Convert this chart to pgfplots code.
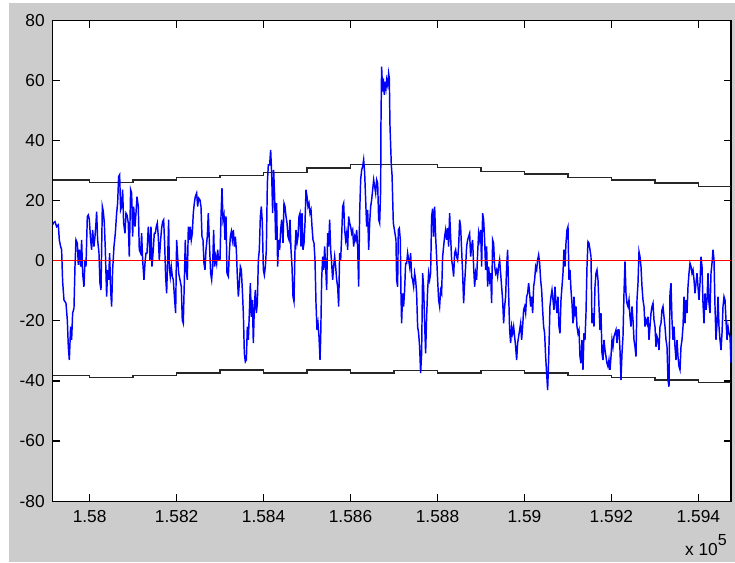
\documentclass[border=0pt]{standalone}
\usepackage{pgfplots}
\pgfplotsset{compat=1.18}
\usepackage{fontspec}
\setmainfont{Liberation Sans}
\definecolor{figgray}{RGB}{204,204,204}
\definecolor{mblue}{RGB}{0,0,255}
\definecolor{mred}{RGB}{255,0,0}
\begin{document}
\fontsize{13pt}{15pt}\selectfont
\begin{tikzpicture}
\useasboundingbox[fill=white] (-39.5pt,-45.75pt) rectangle (511.7pt,375.75pt);
\fill[figgray] (-32.8pt,-45.75pt) rectangle (511.7pt,373.5pt);
\begin{axis}[
  at={(0pt,0pt)}, anchor=south west,
  scale only axis, width=508.7pt, height=360.2pt,
  xmin=157915, xmax=159475, ymin=-80, ymax=80,
  axis background/.style={fill=white},
  axis line style={black, line width=0.8pt},
  tick align=inside, tick pos=both,
  major tick length=5.25pt,
  tick style={black, line width=0.8pt},
  xtick={158000,158200,158400,158600,158800,159000,159200,159400},
  xticklabels={1.58,1.582,1.584,1.586,1.588,1.59,1.592,1.594},
  ytick={-80,-60,-40,-20,0,20,40,60,80},
  yticklabels={-80,-60,-40,-20,0,20,40,60,80},
  xticklabel style={font=\fontsize{13pt}{15pt}\selectfont, inner sep=0pt, yshift=-6.75pt},
  yticklabel style={font=\fontsize{13pt}{15pt}\selectfont, inner sep=0pt, xshift=-5.8pt},
  scaled x ticks=false,
  clip=true,
]
% lower bound
\addplot[const plot, black!85, line width=1.0pt] coordinates {
(157915,-38.2) (158000,-38.9) (158100,-38.2) (158200,-37.3) (158300,-36.4)
(158400,-37.3) (158500,-36.4) (158600,-37.3) (158700,-36.5) (158800,-37.3)
(158900,-36.5) (159000,-37.3) (159100,-38.1) (159200,-38.9) (159300,-39.7)
(159400,-40.6) (159475,-40.6)};
% upper bound
\addplot[const plot, black!85, line width=1.0pt] coordinates {
(157915,26.9) (158000,26.2) (158100,26.9) (158200,27.8) (158300,28.4)
(158400,29.5) (158500,30.9) (158600,32.0) (158700,32.2) (158800,31.2)
(158900,29.7) (159000,28.9) (159100,27.8) (159200,26.9) (159300,26.0)
(159400,24.7) (159475,24.7)};
% blue signal
\addplot[mblue, line width=1.1pt, line join=miter] coordinates {
(157915,12.0) (157916.5,12.6) (157920.3,13.1) (157924.1,11.4) (157928.0,12.0) (157930.3,7.0)
(157933.3,4.8) (157935.6,3.7) (157937.9,-6.9) (157941.0,-13.0) (157945.6,-14.1) (157948.7,-19.7)
(157951.0,-28.6) (157953.3,-33.0) (157956.3,-21.9) (157958.6,-26.3) (157960.9,-17.4) (157964.0,-15.8)
(157966.3,-1.9) (157968.6,7.0) (157971.7,5.9) (157974.0,-1.3) (157976.3,3.7) (157979.3,-1.9)
(157981.6,7.0) (157983.9,-4.1) (157987.0,-8.6) (157989.3,0.3) (157991.6,-1.9) (157994.7,14.8)
(157997.0,15.3) (157999.3,13.7) (158002.3,7.0) (158004.6,3.7) (158006.9,10.3) (158010.0,4.8)
(158012.3,8.1) (158014.6,12.6) (158016.1,16.4) (158018.4,7.0) (158021.5,2.6) (158023.8,-7.4)
(158026.1,-9.7) (158029.2,18.1) (158031.5,16.4) (158033.8,12.6) (158036.1,3.7) (158039.1,-11.9)
(158041.4,-3.0) (158043.7,-6.3) (158046.0,2.6) (158048.3,-9.7) (158050.6,-15.2) (158052.9,-3.0)
(158056.0,4.8) (158059.1,9.2) (158062.1,15.9) (158064.4,19.2) (158066.7,28.1) (158069.0,28.7)
(158071.3,17.0) (158073.6,18.1) (158075.9,23.7) (158078.2,12.6) (158081.3,9.2) (158083.6,15.9)
(158085.9,15.3) (158088.9,12.6) (158091.2,1.4) (158094.3,23.7) (158096.6,22.6) (158098.9,8.1)
(158101.2,18.1) (158104.3,11.4) (158106.6,15.9) (158108.9,21.4) (158111.9,18.1) (158114.2,3.7)
(158117.3,2.6) (158119.6,9.2) (158121.9,0.3) (158125.0,-6.3) (158127.3,-0.8) (158129.6,2.6)
(158131.9,2.6) (158134.9,11.4) (158137.2,7.0) (158138.8,0.3) (158141.1,11.4) (158143.4,-1.9)
(158146.4,3.7) (158148.7,9.2) (158151.0,9.2) (158153.3,11.4) (158155.6,12.6) (158157.9,8.1)
(158160.2,0.3) (158163.3,7.0) (158165.6,10.9) (158167.9,13.1) (158170.2,13.7) (158172.5,5.9)
(158174.8,-5.2) (158177.1,-10.8) (158179.4,0.3) (158181.7,13.7) (158183.2,-1.9) (158185.5,-5.2)
(158187.8,-1.9) (158190.1,-5.2) (158192.4,-6.3) (158195.5,-13.0) (158197.8,-17.4) (158200.1,7.0)
(158202.4,1.4) (158204.7,-4.1) (158207.8,-6.3) (158210.8,-8.6) (158213.1,-19.7) (158215.4,-20.8)
(158217.7,-7.4) (158220.0,7.0) (158222.3,-3.0) (158224.6,-6.3) (158227.0,11.4) (158229.2,7.0)
(158231.5,11.4) (158233.8,7.0) (158236.1,9.2) (158238.4,15.9) (158240.7,19.2) (158243.0,21.4)
(158246.1,22.6) (158248.4,18.1) (158250.7,20.9) (158253.8,20.3) (158256.1,18.1) (158258.4,8.1)
(158260.7,7.0) (158263.0,-0.8) (158265.3,-3.0) (158267.6,3.7) (158270.6,8.1) (158272.9,15.9)
(158275.2,7.0) (158278.3,-4.1) (158280.6,-6.3) (158282.9,-1.9) (158285.2,10.3) (158287.5,-1.9)
(158289.8,1.4) (158292.1,-0.8) (158294.4,3.7) (158296.7,0.3) (158299.8,0.3)
(158302.1,14.8) (158304.4,24.2) (158306.7,13.7) (158309.0,15.3) (158311.3,7.0) (158313.6,14.8)
(158315.9,-4.1) (158319.0,-5.2) (158321.3,2.6) (158323.6,8.1) (158325.9,9.8) (158328.2,7.0)
(158330.5,10.3) (158332.8,4.8) (158335.1,8.1) (158337.4,3.7) (158339.7,-5.2) (158342.0,-11.9)
(158344.3,-7.4) (158346.6,-1.9) (158348.9,-3.0) (158351.2,-9.7) (158353.5,-17.4) (158355.8,-30.8)
(158358.1,-33.6) (158360.4,-33.0) (158362.7,-21.9) (158365.0,-26.3) (158367.3,-17.4) (158369.6,-7.4)
(158371.9,-18.6) (158374.2,-13.0) (158376.5,-27.4) (158378.8,-15.2) (158381.1,-9.7) (158383.4,-17.4)
(158385.7,-14.1) (158388.0,0.3) (158390.3,3.7) (158392.6,14.8) (158394.9,18.1) (158397.2,12.6)
(158399.5,-3.0) (158401.8,-4.7) (158404.1,-1.9) (158406.4,3.7) (158408.7,25.9) (158411.0,32.0)
(158414.0,32.0) (158416.3,37.0) (158418.6,29.2) (158420.9,15.9) (158423.2,30.3) (158425.5,21.4)
(158427.8,7.0) (158430.1,19.2) (158432.4,-1.9) (158434.7,7.0) (158437.0,3.7) (158439.3,10.3)
(158441.6,13.7) (158444.7,5.9) (158447.0,19.2) (158449.3,18.1) (158451.6,14.8) (158453.9,12.6)
(158456.2,8.1) (158458.5,7.0) (158460.8,13.7) (158463.1,3.7) (158465.4,-1.9) (158467.7,-11.9)
(158470.0,-13.6) (158472.3,3.7) (158474.6,10.3) (158476.9,5.9) (158479.2,8.1) (158481.5,14.8)
(158483.8,15.9) (158486.1,4.8) (158488.4,15.9) (158490.7,3.7) (158493.0,5.9) (158495.3,12.6)
(158497.6,23.7) (158499.9,21.4) (158502.2,18.1) (158504.5,19.2) (158506.8,15.9) (158509.1,17.0)
(158511.4,11.4) (158513.7,7.0) (158516.0,5.9) (158518.3,0.3) (158520.6,-14.1) (158522.9,-23.0)
(158525.2,-20.8) (158527.5,-25.2) (158529.8,-33.0) (158531.3,-26.3) (158533.6,-6.3) (158535.9,1.4)
(158538.2,-3.0) (158540.5,4.8) (158542.8,-1.9) (158545.1,-9.7) (158547.4,9.2) (158549.7,4.8)
(158552.0,13.7) (158554.3,3.7) (158556.6,-0.8) (158558.9,-6.3) (158561.2,-1.9) (158563.5,1.4)
(158565.8,-1.9) (158568.1,-6.3) (158570.4,-8.6) (158572.7,-15.2) (158575.0,2.6) (158577.3,0.3)
(158579.6,8.1) (158581.9,18.1) (158584.2,19.2) (158586.5,10.3) (158588.8,7.0) (158591.1,9.2)
(158593.4,3.7) (158595.7,14.8) (158598.0,12.6) (158600.3,11.4) (158602.6,9.2) (158604.9,10.3)
(158607.2,4.8) (158609.5,8.1) (158611.8,7.0) (158614.1,10.3) (158616.4,4.8) (158618.7,-8.6)
(158621.0,15.9) (158623.3,27.1) (158625.6,30.3) (158627.9,31.4) (158630.2,33.7) (158632.5,29.2)
(158634.8,20.3) (158637.1,11.4) (158639.4,17.0) (158641.7,3.7) (158644.0,12.6) (158646.3,18.1)
(158648.6,20.3) (158650.9,23.7) (158653.2,27.0) (158655.5,24.8) (158657.8,22.6) (158660.1,27.0)
(158662.4,25.9) (158664.7,13.7) (158667.0,12.6) (158669.3,23.7)
(158670.0,45.8) (158671.5,64.7) (158673.8,56.4) (158675.4,60.8) (158677.7,55.3) (158679.2,59.7)
(158681.5,57.5) (158683.0,60.3) (158685.3,58.6) (158687.6,62.5) (158689.2,60.8) (158690.7,45.3)
(158693.8,31.9) (158695.5,28.5)
(158698.4,12.6) (158702.2,9.2) (158704.5,7.0) (158706.0,-6.3) (158708.3,-8.6) (158709.9,10.3)
(158712.2,10.9) (158714.5,7.0) (158716.0,-10.8) (158717.5,-20.8) (158719.8,-10.8) (158722.1,-15.2)
(158724.4,-9.7) (158726.7,-0.8) (158729.0,-0.8) (158731.3,2.6) (158733.6,0.3) (158735.9,-1.9)
(158738.2,2.6) (158740.5,-5.2) (158742.8,-6.3) (158745.1,-8.6) (158747.4,-4.1) (158749.7,-6.3)
(158752.0,-10.8) (158754.3,-21.9) (158756.6,-24.1) (158758.9,-28.6) (158761.2,-37.4) (158763.5,-30.8)
(158765.8,-4.1) (158768.1,-8.6) (158770.4,-20.8) (158772.7,-30.8) (158775.0,-18.6) (158777.3,-9.7)
(158779.6,-4.1) (158781.9,-6.3) (158784.2,-4.1) (158786.5,14.8) (158788.8,17.4) (158791.1,8.1)
(158793.4,18.1) (158795.7,8.1) (158798.0,1.4) (158800.3,-6.3) (158802.6,-13.0) (158804.9,-15.2)
(158807.2,-9.7) (158809.5,-10.8) (158811.8,1.4) (158814.1,4.8) (158816.4,8.1) (158818.7,10.3)
(158821.0,7.0) (158823.3,10.9) (158825.6,4.8) (158827.9,15.9) (158830.2,8.1) (158832.5,0.3)
(158834.8,-1.9) (158837.1,-5.2) (158839.4,2.6) (158841.7,3.7) (158844.0,1.4) (158846.3,0.3)
(158848.6,4.8) (158850.9,13.7) (158853.2,11.4) (158855.5,3.7) (158857.8,-4.1) (158860.1,-14.1)
(158862.4,-7.4) (158864.7,-1.9) (158867.0,4.8) (158869.3,7.0) (158871.6,8.1) (158873.9,9.2)
(158876.2,1.4) (158878.5,4.8) (158880.8,7.0) (158883.1,-1.9) (158885.4,-8.6) (158887.7,-4.1)
(158890.0,-6.3) (158892.3,2.6) (158894.6,9.2) (158896.9,7.0) (158899.2,10.3) (158901.5,-1.9)
(158903.8,15.9) (158906.1,13.7) (158908.4,7.0) (158910.7,-3.0) (158913.0,4.8) (158915.3,-8.6)
(158917.6,-1.9) (158919.9,-6.3) (158922.2,-4.1) (158924.5,-14.1) (158926.8,7.0) (158929.1,5.9)
(158931.4,-1.9) (158933.7,-4.1) (158936.0,-3.0) (158938.3,-5.2) (158940.6,-1.9) (158942.9,0.3)
(158945.2,-4.1) (158947.5,-8.6) (158949.8,-13.0) (158952.1,-20.8) (158954.4,-15.2) (158956.7,-11.9)
(158959.0,-1.9) (158961.3,3.7) (158963.6,-10.8) (158965.9,-23.0) (158968.2,-27.4) (158970.5,-21.9)
(158972.8,-24.1) (158975.1,-21.9) (158977.4,-25.2) (158979.7,-28.6) (158982.0,-33.0) (158984.3,-27.4)
(158986.6,-25.2) (158988.9,-23.0) (158991.2,-20.8) (158993.5,-26.3) (158995.8,-21.9) (158998.1,-16.3)
(159000.4,-15.2) (159002.7,-17.4) (159005.0,-11.9) (159007.3,-10.8) (159009.6,-7.4) (159011.9,-10.8)
(159014.2,-15.2) (159016.5,-11.9) (159018.8,-17.4) (159021.1,-8.6) (159023.4,-6.3) (159025.7,-1.9)
(159028.0,-3.0) (159030.3,0.3) (159032.6,2.0) (159034.9,-0.8) (159037.2,-6.3) (159039.5,-9.7)
(159041.8,-16.3) (159044.1,-21.9) (159046.4,-24.1) (159048.7,-31.9) (159051.0,-37.4) (159053.3,-43.0)
(159055.6,-33.0) (159058.7,-15.0)
(159061.0,-11.9) (159063.3,-9.7) (159065.6,-13.0) (159067.9,-16.3) (159070.2,-8.6) (159072.5,-14.1)
(159074.8,-17.4) (159077.1,-11.9) (159079.4,-21.9) (159081.7,-24.1) (159084.0,-13.0) (159086.3,-8.6)
(159088.6,-4.1) (159090.9,3.7) (159093.2,-1.9) (159095.5,5.9) (159097.8,10.3) (159100.1,11.4)
(159102.4,-6.3) (159104.7,-3.0) (159107.0,-9.7) (159109.3,-14.1) (159111.6,-20.8) (159113.9,-11.9)
(159116.2,-17.4) (159118.5,-15.2) (159120.8,-21.9) (159123.1,-24.1) (159125.4,-23.0) (159127.7,-31.9)
(159130.0,-34.1) (159132.3,-26.3) (159134.6,-36.3) (159136.9,-24.1) (159139.2,-26.3) (159141.5,-17.4)
(159143.8,-1.9) (159146.1,6.4) (159148.4,5.9) (159150.7,3.7) (159153.0,1.4) (159155.3,-20.8)
(159157.6,-17.4) (159159.9,-21.9) (159162.2,-8.6) (159164.5,-4.1) (159166.8,-3.0) (159169.1,-6.3)
(159171.4,-15.2) (159173.7,-23.0) (159176.0,-17.4) (159178.3,-30.8) (159180.6,-33.0) (159182.9,-26.3)
(159185.2,-29.7) (159187.5,-31.9) (159189.8,-34.1) (159192.1,-35.2) (159194.4,-33.0) (159196.7,-36.3)
(159199.0,-31.9) (159201.3,-26.3) (159203.6,-28.6) (159205.9,-25.2) (159208.2,-24.1) (159210.5,-23.0)
(159212.8,-27.4) (159215.1,-23.0) (159217.4,-23.0) (159219.7,-29.7) (159222.0,-39.7) (159224.3,-30.8)
(159226.6,-25.2) (159228.9,-10.8) (159231.2,-0.2) (159233.5,-10.8) (159235.8,-14.1) (159238.1,-15.2)
(159240.4,-13.0) (159242.7,-18.6) (159245.0,-21.9) (159247.3,-15.2) (159249.6,-19.7) (159251.9,-26.3)
(159254.2,-28.6) (159256.5,-31.9) (159258.8,-13.0) (159261.1,-7.4) (159263.4,3.1) (159265.7,1.4)
(159268.0,-1.9) (159270.3,-8.6) (159272.6,-13.0) (159274.9,-15.2) (159277.2,-21.9) (159279.5,-19.7)
(159281.8,-20.8) (159284.1,-18.6) (159286.4,-26.3) (159288.7,-21.9) (159291.0,-17.4) (159293.3,-15.2)
(159295.6,-14.1) (159297.9,-19.7) (159300.2,-21.9) (159302.5,-28.6) (159304.8,-25.2) (159307.1,-26.3)
(159309.4,-29.7) (159311.7,-21.9) (159314.0,-20.8) (159316.3,-16.3) (159318.6,-15.2) (159320.9,-18.6)
(159323.2,-21.9) (159325.5,-26.3) (159327.8,-28.6) (159330.1,-39.7) (159332.4,-41.9) (159334.7,-10.8)
(159337.0,-7.4) (159339.3,-19.7) (159341.6,-26.3) (159343.9,-21.9) (159346.2,-28.6) (159348.5,-33.0)
(159350.8,-26.3) (159353.1,-31.9) (159355.4,-35.2) (159357.7,-36.3) (159360.0,-28.6) (159362.3,-26.3)
(159364.6,-21.9) (159366.9,-11.9) (159369.2,-20.8) (159371.5,-13.0) (159373.8,-17.4) (159376.1,-8.6)
(159378.4,-4.1) (159380.7,-0.8) (159383.0,-1.9) (159385.3,-4.1) (159387.6,-3.0) (159389.9,-6.3)
(159392.2,-10.8) (159394.5,-7.4) (159396.8,-4.1) (159399.1,-8.6) (159401.4,-13.0) (159403.7,-7.4)
(159406.0,1.4) (159408.3,-1.9) (159410.6,-14.1) (159412.9,-20.8) (159415.2,-10.8) (159417.5,-16.3)
(159419.8,-13.0) (159422.1,-4.1) (159424.4,-14.1) (159426.7,-17.4) (159429.0,-4.1) (159431.3,-0.8)
(159433.6,3.7) (159435.9,0.3) (159438.2,-15.2) (159440.5,-26.3) (159442.8,-20.8) (159445.1,-11.9)
(159447.4,-21.9) (159449.7,-26.3) (159452.0,-29.7) (159454.3,-24.1) (159456.6,-15.2) (159458.9,-11.9)
(159461.2,-13.0) (159463.5,-19.7) (159465.8,-26.3) (159468.1,-21.9) (159470.4,-24.1) (159472.7,-25.2)
(159475.0,-34.0)};
% zero line
\addplot[mred, line width=0.8pt] coordinates {(157915,0) (159475,0)};
\end{axis}
\node[anchor=base east, inner sep=0pt] at (508.7pt-3pt,-41pt) {x 10\raisebox{7.3pt}{\fontsize{12pt}{14pt}\selectfont 5}};
\end{tikzpicture}
\end{document}
